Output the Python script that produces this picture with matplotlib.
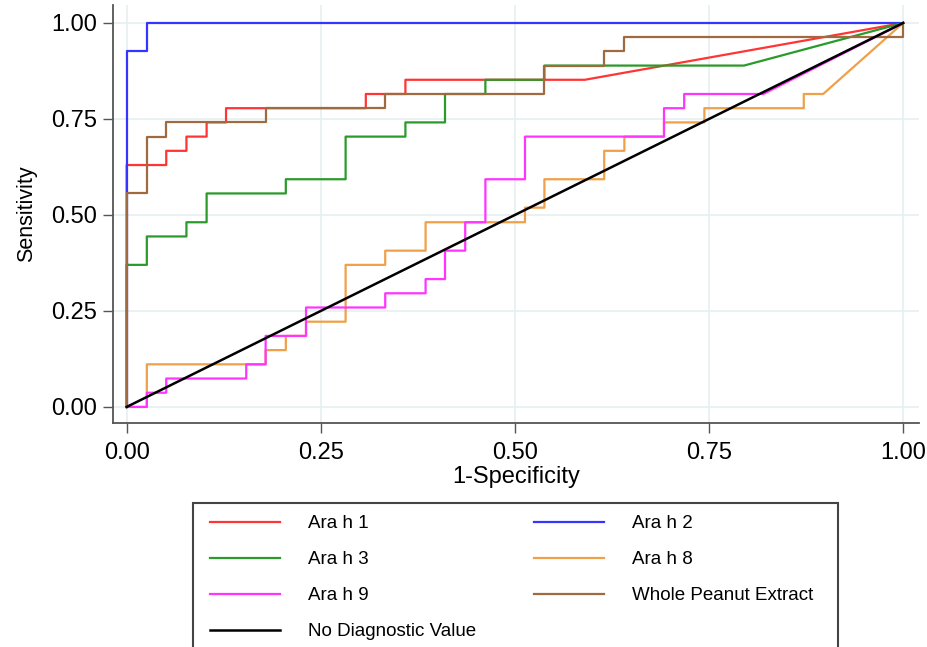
import matplotlib.pyplot as plt
from matplotlib.patches import Rectangle

plt.rcParams['font.family'] = ['Liberation Sans', 'DejaVu Sans']

# ROC vertices (1-specificity, sensitivity)
ara1_x = [0, 0, 0.051, 0.051, 0.077, 0.077, 0.103, 0.103, 0.128, 0.128, 0.308, 0.308, 0.359, 0.359, 0.590, 1]
ara1_y = [0, 0.630, 0.630, 0.667, 0.667, 0.704, 0.704, 0.741, 0.741, 0.778, 0.778, 0.815, 0.815, 0.852, 0.852, 1]

ara2_x = [0, 0, 0.026, 0.026, 1]
ara2_y = [0, 0.926, 0.926, 1, 1]

ara3_x = [0, 0, 0.026, 0.026, 0.077, 0.077, 0.103, 0.103, 0.205, 0.205, 0.282, 0.282,
          0.359, 0.359, 0.410, 0.410, 0.462, 0.462, 0.538, 0.538, 0.795, 1]
ara3_y = [0, 0.370, 0.370, 0.444, 0.444, 0.481, 0.481, 0.556, 0.556, 0.593, 0.593, 0.704,
          0.704, 0.741, 0.741, 0.815, 0.815, 0.852, 0.852, 0.889, 0.889, 1]

ara8_x = [0, 0.026, 0.026, 0.179, 0.179, 0.205, 0.205, 0.231, 0.231, 0.282, 0.282, 0.333, 0.333,
          0.385, 0.385, 0.513, 0.513, 0.538, 0.538, 0.615, 0.615, 0.641, 0.641, 0.692, 0.692,
          0.744, 0.744, 0.872, 0.872, 0.897, 1]
ara8_y = [0, 0, 0.111, 0.111, 0.148, 0.148, 0.185, 0.185, 0.222, 0.222, 0.370, 0.370, 0.407,
          0.407, 0.481, 0.481, 0.519, 0.519, 0.593, 0.593, 0.667, 0.667, 0.704, 0.704, 0.741,
          0.741, 0.778, 0.778, 0.815, 0.815, 1]

ara9_x = [0, 0.026, 0.026, 0.051, 0.051, 0.154, 0.154, 0.179, 0.179, 0.231, 0.231, 0.333, 0.333,
          0.385, 0.385, 0.410, 0.410, 0.436, 0.436, 0.462, 0.462, 0.513, 0.513, 0.692, 0.692,
          0.718, 0.718, 0.820, 1]
ara9_y = [0, 0, 0.037, 0.037, 0.074, 0.074, 0.111, 0.111, 0.185, 0.185, 0.259, 0.259, 0.296,
          0.296, 0.333, 0.333, 0.407, 0.407, 0.481, 0.481, 0.593, 0.593, 0.704, 0.704, 0.778,
          0.778, 0.815, 0.815, 1]

wpe_x = [0, 0, 0.026, 0.026, 0.051, 0.051, 0.179, 0.179, 0.333, 0.333, 0.538, 0.538,
         0.615, 0.615, 0.641, 0.641, 1, 1]
wpe_y = [0, 0.556, 0.556, 0.704, 0.704, 0.741, 0.741, 0.778, 0.778, 0.815, 0.815, 0.889,
         0.889, 0.926, 0.926, 0.963, 0.963, 1]

ref_x = [0, 1]
ref_y = [0, 1]

ticks = [0, 0.25, 0.5, 0.75, 1]
tick_labels = ['0.00', '0.25', '0.50', '0.75', '1.00']

fig = plt.figure(figsize=(9.28, 6.47), dpi=100)
ax = fig.add_axes([0.1214, 0.3467, 0.8689, 0.6456])

lines = {}
lines['Ara h 1'] = ax.plot(ara1_x, ara1_y, color='#ff3535', lw=1.6)[0]
lines['Ara h 2'] = ax.plot(ara2_x, ara2_y, color='#3535ff', lw=1.6)[0]
lines['Ara h 3'] = ax.plot(ara3_x, ara3_y, color='#2a9a2a', lw=1.6)[0]
lines['Ara h 8'] = ax.plot(ara8_x, ara8_y, color='#f0a048', lw=1.6)[0]
lines['Ara h 9'] = ax.plot(ara9_x, ara9_y, color='#ff35ff', lw=1.6)[0]
lines['Whole Peanut Extract'] = ax.plot(wpe_x, wpe_y, color='#a06a40', lw=1.6)[0]
lines['No Diagnostic Value'] = ax.plot(ref_x, ref_y, color='#000000', lw=1.8)[0]

ax.set_xlim(-0.018, 1.0204)
ax.set_ylim(-0.041, 1.0468)
ax.set_xticks(ticks)
ax.set_xticklabels(tick_labels)
ax.set_yticks(ticks)
ax.set_yticklabels(tick_labels)
ax.tick_params(labelsize=17, length=7, width=1, color='#555555', pad=4)
ax.tick_params(axis='x', pad=7)
ax.grid(True, color='#e6eff1', lw=1.2)
ax.set_axisbelow(True)
for s in ['top', 'right']:
    ax.spines[s].set_visible(False)
for s in ['left', 'bottom']:
    ax.spines[s].set_color('#555555')
    ax.spines[s].set_linewidth(1.3)

ax.set_xlabel('1-Specificity', fontsize=17, labelpad=1)
ax.set_ylabel('Sensitivity', fontsize=15.5, labelpad=10)

# legend filled row by row (matplotlib fills columns first)
order = ['Ara h 1', 'Ara h 3', 'Ara h 9', 'No Diagnostic Value',
         'Ara h 2', 'Ara h 8', 'Whole Peanut Extract']
fig.legend([lines[k] for k in order], order, loc='upper left',
           bbox_to_anchor=(0.2263, 0.0, 0.6498, 0.2035), mode='expand',
           ncol=2, fontsize=13.5, frameon=False,
           handlelength=3.73, handletextpad=1.49, labelspacing=1.0, borderpad=0,
           borderaxespad=0)
fig.patches.append(Rectangle((193 / 928, -0.01), 645 / 928, 0.2326, transform=fig.transFigure,
                             fill=False, edgecolor='#444444', lw=1.5))

fig.savefig('out.png', dpi=100)
